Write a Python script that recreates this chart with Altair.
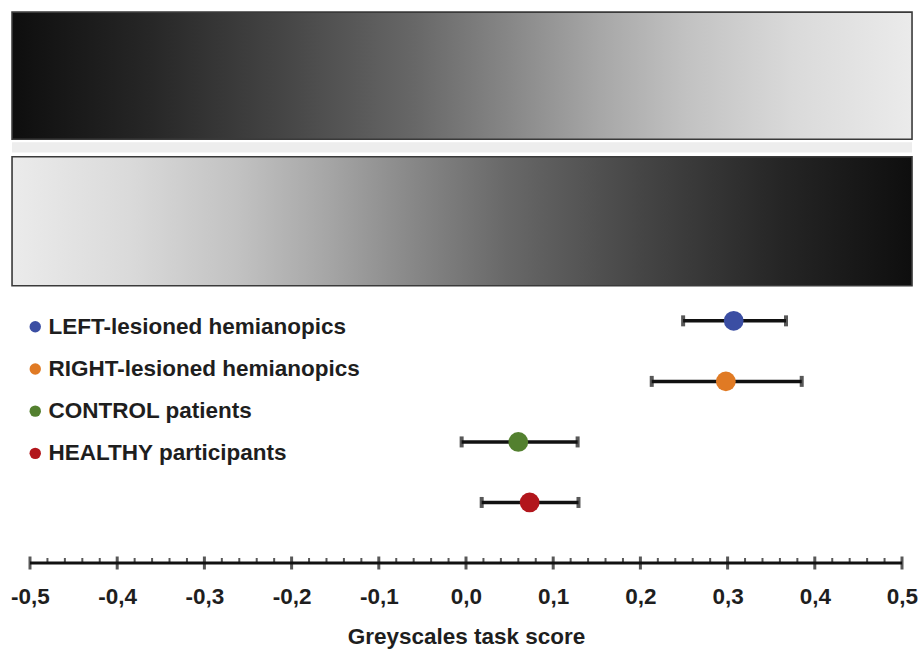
import altair as alt
import pandas as pd

# ---- data ----
groups = ["LEFT-lesioned hemianopics", "RIGHT-lesioned hemianopics",
          "CONTROL patients", "HEALTHY participants"]
colors = ["#3b4ea3", "#e07a24", "#53802f", "#b2161c"]
means = [0.307, 0.298, 0.060, 0.073]
lows = [0.249, 0.213, -0.005, 0.018]
highs = [0.367, 0.385, 0.128, 0.129]
rows = [4, 3, 2, 1]

major_ticks = [-0.5, -0.4, -0.3, -0.2, -0.1, 0.0, 0.1, 0.2, 0.3, 0.4, 0.5]
minor_ticks = [round(-0.5 + 0.02 * i, 2) for i in range(51) if i % 5 != 0]

# gradient strips (x extents in score units, y extents in row units)
strip_x = [-0.5206, 0.5115]
top_strip_y = [9.10, 7.00]
band_y = [6.95, 6.78]
bottom_strip_y = [6.71, 4.58]

grey_stops = [(0.0, "#0e0e0e"), (0.15, "#262626"), (0.30, "#454545"),
              (0.45, "#686868"), (0.55, "#868686"), (0.65, "#a6a6a6"),
              (0.75, "#c2c2c2"), (0.87, "#dadada"), (1.0, "#ebebeb")]

FONT = "Liberation Sans"
TXT = "#1e1e1e"

df = pd.DataFrame({"group": groups, "mean": means, "lo": lows, "hi": highs, "row": rows})

xscale = alt.Scale(domain=[-0.5, 0.5], nice=False, zero=False)
yscale = alt.Scale(domain=[0, 9.3], nice=False, zero=False)

x_axis = alt.Axis(values=major_ticks, ticks=False, domain=False, grid=False,
                  labelFlush=False, labelOverlap=False,
                  labelExpr="replace(replace(format(datum.value, '.1f'), '.', ','), '\u2212', '-')",
                  labelFont=FONT, labelFontSize=22.5, labelFontWeight="bold",
                  labelColor=TXT, labelPadding=22,
                  title="Greyscales task score", titleFont=FONT, titleFontSize=22.5,
                  titleFontWeight="bold", titleColor=TXT, titlePadding=18)


def strip(yv, stops):
    d = pd.DataFrame({"x": [strip_x[0]], "x2": [strip_x[1]], "y": [yv[0]], "y2": [yv[1]]})
    return alt.Chart(d).mark_rect(
        color=alt.LinearGradient(
            gradient="linear", x1=0, x2=1, y1=0, y2=0,
            stops=[alt.GradientStop(offset=o, color=c) for o, c in stops]),
        stroke="#3a3a3a", strokeWidth=1.6,
    ).encode(
        x=alt.X("x:Q", scale=xscale),
        x2="x2:Q",
        y=alt.Y("y:Q", scale=yscale, axis=None),
        y2="y2:Q",
    )


band_df = pd.DataFrame({"x": [strip_x[0]], "x2": [strip_x[1]], "y": [band_y[0]], "y2": [band_y[1]]})
band = alt.Chart(band_df).mark_rect(color="#ededed").encode(
    x=alt.X("x:Q", scale=xscale, axis=x_axis), x2="x2:Q",
    y=alt.Y("y:Q", scale=yscale, axis=None), y2="y2:Q")

top_strip = strip(top_strip_y, grey_stops)
bottom_strip = strip(bottom_strip_y, [(1 - o, c) for o, c in reversed(grey_stops)])

# axis line and ticks
axis_df = pd.DataFrame({"x": [-0.5], "x2": [0.5], "y": [0]})
axis_line = alt.Chart(axis_df).mark_rule(color="#111", strokeWidth=3).encode(
    x=alt.X("x:Q", scale=xscale), x2="x2:Q",
    y=alt.Y("y:Q", scale=yscale),
)

maj_df = pd.DataFrame({"x": major_ticks, "y": [0] * len(major_ticks)})
maj = alt.Chart(maj_df).mark_tick(orient="vertical", size=13, thickness=3, color="#111").encode(
    x=alt.X("x:Q", scale=xscale), y=alt.Y("y:Q", scale=yscale))
min_df = pd.DataFrame({"x": minor_ticks, "y": [0] * len(minor_ticks)})
mnr = alt.Chart(min_df).mark_tick(orient="vertical", size=6, thickness=2, color="#111",
                                  yOffset=-2).encode(
    x=alt.X("x:Q", scale=xscale), y=alt.Y("y:Q", scale=yscale))

base = alt.Chart(df)
err = base.mark_rule(color="#111", strokeWidth=3.5).encode(
    x=alt.X("lo:Q", scale=xscale), x2="hi:Q", y=alt.Y("row:Q", scale=yscale))
cap_lo = base.mark_tick(orient="vertical", size=11, thickness=4, color="#111").encode(
    x=alt.X("lo:Q", scale=xscale), y=alt.Y("row:Q", scale=yscale))
cap_hi = base.mark_tick(orient="vertical", size=11, thickness=4, color="#111").encode(
    x=alt.X("hi:Q", scale=xscale), y=alt.Y("row:Q", scale=yscale))
pts = base.mark_circle(size=390, opacity=1).encode(
    x=alt.X("mean:Q", scale=xscale),
    y=alt.Y("row:Q", scale=yscale),
    color=alt.Color("group:N", scale=alt.Scale(domain=groups, range=colors),
                    sort=groups,
                    legend=alt.Legend(orient="none", legendX=-6, legendY=315.5, title=None,
                                      padding=0, symbolType="circle", symbolSize=130,
                                      symbolStrokeWidth=0, symbolOpacity=1,
                                      labelFont=FONT, labelFontSize=22.5, labelFontWeight="bold",
                                      labelColor=TXT, labelOffset=2, rowPadding=19.2,
                                      labelLimit=500)),
)

chart = alt.layer(band, top_strip, bottom_strip, axis_line, mnr, maj, err, cap_lo, cap_hi, pts).properties(
    width=872, height=563,
    autosize=alt.AutoSizeParams(type="none"),
    padding={"left": 30, "top": 0, "right": 19, "bottom": 88},
    background="white",
).configure_view(stroke=None)

chart.save("out.html", embed_options={"renderer": "svg", "actions": False})
